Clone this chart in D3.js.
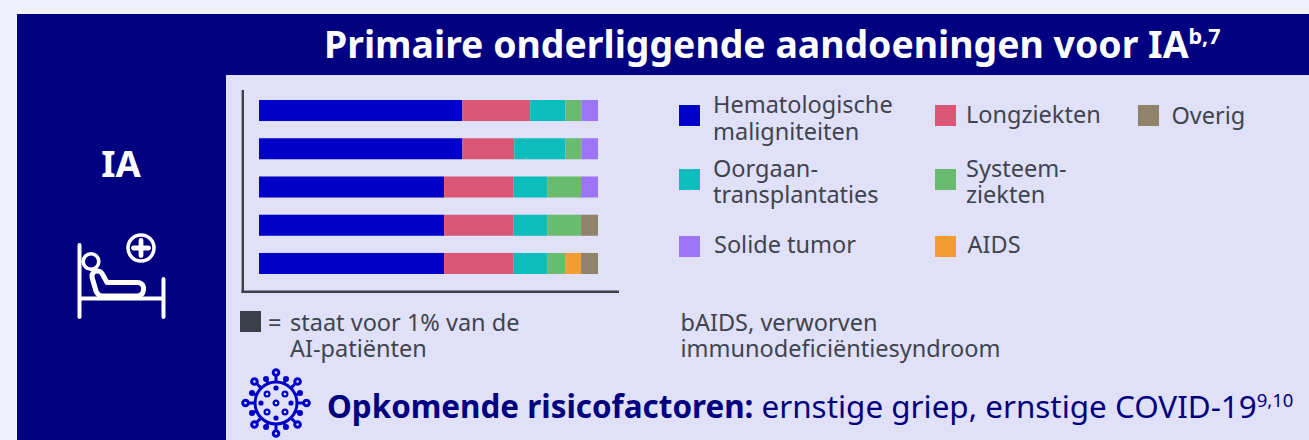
<!DOCTYPE html>
<html><head><meta charset="utf-8">
<script src="https://cdn.jsdelivr.net/npm/d3@7/dist/d3.min.js"></script>
<style>html,body{margin:0;padding:0;background:#f0f1fb}svg{display:block}text{font-family:"Noto Sans",sans-serif}</style>
</head><body><svg id="c" width="1309" height="440"></svg>
<script>
const rows = ["r1","r2","r3","r4","r5"];
const series = ["Hematologische maligniteiten","Longziekten","Oorgaantransplantaties","Systeemziekten","Solide tumor","AIDS","Overig"];
const colors = ["#0000c8","#d95775","#0bbdbc","#68bb6f","#9d74f6","#f39c31","#91836b"];
const hemato = [60,60,54.6,54.6,54.6];
const long   = [20,15.3,20.5,20.5,20.5];
const organ  = [10.4,15.1,9.9,9.9,9.9];
const syst   = [4.7,4.7,10,10,5.3];
const solid  = [4.9,4.9,5,0,0];
const aids   = [0,0,0,0,4.7];
const other  = [0,0,0,5,5];
const values = [hemato,long,organ,syst,solid,aids,other];

const svg = d3.select("#c");
const ink = "#3f444e", navy = "#000080";
svg.append("rect").attr("x",17).attr("y",14).attr("width",1292).attr("height",426).attr("fill",navy);
svg.append("rect").attr("x",226).attr("y",75).attr("width",1083).attr("height",365).attr("fill","#e0e0f8");

const x = d3.scaleLinear().domain([0,100]).range([259,598]);
const y = d3.scaleBand().domain(rows).range([100,274]).paddingInner(0.45);
rows.forEach((r,i)=>{
  let acc = 0;
  values.forEach((v,s)=>{
    if(v[i]>0){
      svg.append("rect").attr("x",x(acc)).attr("y",y(r)).attr("width",x(acc+v[i])-x(acc)).attr("height",y.bandwidth()).attr("fill",colors[s]);
    }
    acc += v[i];
  });
});
const line = (x1,y1,x2,y2,c,w)=>svg.append("line").attr("x1",x1).attr("y1",y1).attr("x2",x2).attr("y2",y2).attr("stroke",c).attr("stroke-width",w);
line(242.8,90,242.8,293,"#3a3f4a",2.4);
line(241.6,291.8,619,291.8,"#3a3f4a",2.4);

const txt = (tx,ty,s,o={})=>svg.append("text").attr("x",tx).attr("y",ty).text(s)
  .attr("font-size",o.size||23.5).attr("font-weight",o.weight||400).attr("fill",o.fill||ink).attr("text-anchor",o.anchor||"start");

const t = txt(324,58,"Primaire onderliggende aandoeningen voor IA",{size:37.4,weight:700,fill:"#fff"});
t.append("tspan").attr("font-size",21.5).attr("dy",-14).text("b,7");
txt(121,177,"IA",{size:36.5,weight:700,fill:"#fff",anchor:"middle"});

const leg = [
 [0,679,105,[[713,113],[713,140]]],
 [1,935,105,[[966,123]]],
 [6,1138,105,[[1171.5,124]]],
 [2,679,169,[[713,177],[713,203]]],
 [3,935,169,[[966,177],[966,203]]],
 [4,679,236,[[714,253]]],
 [5,935,236,[[967.5,253]]]
];
const legText = ["Hematologische|maligniteiten","Longziekten","Overig","Oorgaan-|transplantaties","Systeem-|ziekten","Solide tumor","AIDS"];
leg.forEach((l,i)=>{
  svg.append("rect").attr("x",l[1]).attr("y",l[2]).attr("width",21).attr("height",21).attr("fill",colors[l[0]]);
  legText[i].split("|").forEach((s,k)=>txt(l[3][k][0],l[3][k][1],s));
});

svg.append("rect").attr("x",240).attr("y",311).attr("width",21).attr("height",21).attr("fill","#3a3f4a");
txt(268,331,"=");
txt(290,331,"staat voor 1% van de");
txt(290,357,"AI-patiënten");
txt(680.5,331,"bAIDS, verworven");
txt(680.5,357,"immunodeficiëntiesyndroom");

const b = txt(327,418,"Opkomende risicofactoren:",{size:31.4,weight:700,fill:navy});
b.append("tspan").attr("font-weight",400).text(" ernstige griep, ernstige COVID-19");
b.append("tspan").attr("font-weight",400).attr("font-size",18.5).attr("dy",-11).text("9,10");

const w = svg.append("g").attr("fill","none").attr("stroke","#fff").attr("stroke-width",4).attr("stroke-linecap","round").attr("stroke-linejoin","round");
w.append("path").attr("d","M79.5 245V317M163.5 279V317M79.5 298.5H163.5");
w.append("circle").attr("cx",91).attr("cy",261.5).attr("r",7.8).attr("stroke-width",3.6);
w.append("path").attr("d","M97 271C101 271 102 273 104 277L107 282.5H137C143 282.5 144 287 143.5 290C143 294 141 296 137 296H102C98 296 97 293 96 291L92.5 279C91 275 93 271 97 271Z").attr("stroke-width",5);
w.append("circle").attr("cx",141).attr("cy",248).attr("r",13).attr("stroke-width",3.6);
w.append("path").attr("d","M141 240.5V255.5M133.5 248H148.5").attr("stroke-width",4.8);

const v = svg.append("g").attr("transform","translate(276,403)").attr("fill","none").attr("stroke","#0000c8").attr("stroke-width",3);
v.append("circle").attr("r",21);
d3.range(8).forEach(i=>{
  const a = i*Math.PI/4 - Math.PI/2, c=Math.cos(a), s=Math.sin(a);
  v.append("line").attr("x1",21*c).attr("y1",21*s).attr("x2",27.5*c).attr("y2",27.5*s);
  v.append("circle").attr("cx",30.5*c).attr("cy",30.5*s).attr("r",2.8);
  const a2 = a+Math.PI/8, c2=Math.cos(a2), s2=Math.sin(a2);
  v.append("line").attr("x1",21*c2).attr("y1",21*s2).attr("x2",26*c2).attr("y2",26*s2);
  v.append("circle").attr("cx",26*c2).attr("cy",26*s2).attr("r",3).attr("fill","#0000c8").attr("stroke","none");
  const a3 = a+Math.PI/4;
  if(i%2==0){
    v.append("circle").attr("cx",15*Math.cos(a)).attr("cy",15*Math.sin(a)).attr("r",2.6).attr("fill","#0000c8").attr("stroke","none");
    v.append("circle").attr("cx",12.7*Math.cos(a3)).attr("cy",12.7*Math.sin(a3)).attr("r",2.4).attr("stroke-width",2.2);
  }
});
v.append("circle").attr("r",2.4).attr("stroke-width",2.2);
</script></body></html>
